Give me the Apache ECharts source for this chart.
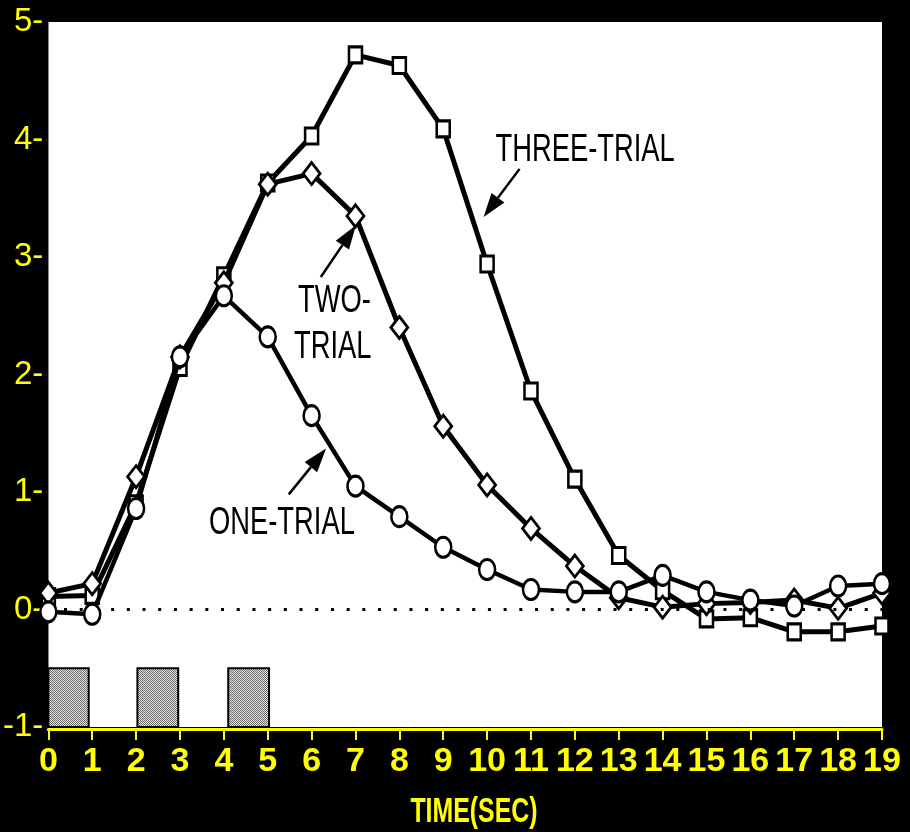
<!DOCTYPE html>
<html>
<head>
<meta charset="utf-8">
<script src="https://cdn.jsdelivr.net/npm/echarts@6/dist/echarts.min.js"></script>
<style>
html,body{margin:0;padding:0;background:#000;}
#chart{width:910px;height:832px;}
</style>
</head>
<body>
<div id="chart"></div>
<script>
// ---- data ----
var timeSec = [0,1,2,3,4,5,6,7,8,9,10,11,12,13,14,15,16,17,18,19];
var threeTrial = [0.11,0.12,0.90,2.06,2.84,3.63,4.03,4.72,4.63,4.09,2.94,1.86,1.11,0.46,0.16,-0.08,-0.07,-0.19,-0.19,-0.14];
var twoTrial   = [0.14,0.22,1.13,2.15,2.78,3.62,3.71,3.35,2.40,1.56,1.06,0.69,0.37,0.10,0.02,0.05,0.06,0.08,0.01,0.14];
var oneTrial   = [-0.02,-0.04,0.86,2.15,2.67,2.32,1.65,1.05,0.79,0.53,0.34,0.17,0.15,0.15,0.29,0.15,0.08,0.03,0.20,0.22];
// stimulus blocks: [start, end, bottom, top]
var stimBlocks = [[0,0.92,-1,-0.5],[2.03,2.96,-1,-0.5],[4.1,5.03,-1,-0.5]];
var xTicks = {min:0, max:19, interval:1};
var yTicks = {min:-1, max:5, interval:1};
var xAxisName = 'TIME(SEC)';
// annotations in data coordinates
var labels = [
  {text:'THREE-TRIAL', x:10.19, y:3.91},
  {text:'TWO-', x:5.69, y:2.62},
  {text:'TRIAL', x:5.60, y:2.23},
  {text:'ONE-TRIAL', x:3.66, y:0.73}
];
var arrows = [
  {from:[10.74,3.75], to:[9.92,3.34]},
  {from:[6.21,2.83], to:[7.01,3.27]},
  {from:[5.48,0.98], to:[6.33,1.37]}
];

// ---- dither pattern ----
var pc = document.createElement('canvas');
pc.width = 2; pc.height = 2;
var g = pc.getContext('2d');
g.fillStyle = '#e2e2e2'; g.fillRect(0,0,2,2);
g.fillStyle = '#6e6e6e'; g.fillRect(0,0,1,1); g.fillRect(1,1,1,1);

var chart = echarts.init(document.getElementById('chart'), null, {renderer:'canvas'});
var YEL = '#ffff00';
function pts(arr){ return arr.map(function(v,i){ return [timeSec[i], v]; }); }
var lineBase = {
  type:'line', showSymbol:true,
  lineStyle:{color:'#000', width:5},
  itemStyle:{color:'#fff', borderColor:'#000', borderWidth:2.8},
  emphasis:{disabled:true}, animation:false
};
var option = {
  backgroundColor:'#000',
  animation:false,
  grid:{left:47, right:28, top:22, bottom:105, show:true, backgroundColor:'#fff', borderWidth:0},
  xAxis:{
    type:'value', min:xTicks.min, max:xTicks.max, interval:xTicks.interval,
    offset:2,
    axisLine:{show:true, onZero:false, lineStyle:{color:YEL, width:3}},
    axisTick:{show:true, length:11, lineStyle:{color:YEL, width:2}},
    axisLabel:{color:YEL, fontSize:34, fontWeight:'bold', fontFamily:'Liberation Sans, Arial, sans-serif', margin:16},
    splitLine:{show:false}
  },
  yAxis:{
    type:'value', min:yTicks.min, max:yTicks.max, interval:yTicks.interval,
    axisLine:{show:true, onZero:false, lineStyle:{color:'#888', width:1}},
    axisTick:{show:false},
    axisLabel:{color:YEL, fontSize:33, fontFamily:'Liberation Sans, Arial, sans-serif', margin:5,
      formatter:function(v){ return v + '-'; }},
    splitLine:{show:false}
  },
  series:[
    {
      type:'custom', animation:false, silent:true,
      data:stimBlocks,
      renderItem:function(params, api){
        var p0 = api.coord([api.value(0), api.value(3)]);
        var p1 = api.coord([api.value(1), api.value(2)]);
        return {type:'rect', shape:{x:p0[0], y:p0[1], width:p1[0]-p0[0], height:p1[1]-p0[1]},
          style:{fill:{image:pc, repeat:'repeat'}, stroke:'#000', lineWidth:2}};
      },
      z:1
    },
    Object.assign({}, lineBase, {name:'THREE-TRIAL', data:pts(threeTrial), symbol:'rect', symbolSize:[13,16], z:3,
      markLine:{silent:true, symbol:'none', label:{show:false}, animation:false,
        lineStyle:{color:'#000', width:3, type:[3,12.7]}, data:[{yAxis:0}]}}),
    Object.assign({}, lineBase, {name:'TWO-TRIAL', data:pts(twoTrial), symbol:'diamond', symbolSize:[17,22], z:4}),
    Object.assign({}, lineBase, {name:'ONE-TRIAL', data:pts(oneTrial), symbol:'circle', symbolSize:[16,20], z:5, lineStyle:{color:'#000', width:4.5}})
  ]
};
chart.setOption(option);

function drawGraphics(){
  var els = [];
  labels.forEach(function(l){
    var p = chart.convertToPixel({gridIndex:0}, [l.x, l.y]);
    els.push({type:'text', x:p[0], y:p[1], scaleX:0.72, z:50,
      style:{text:l.text, fill:'#000', fontSize:38, fontFamily:'Liberation Sans, Arial, sans-serif',
        textAlign:'left', textVerticalAlign:'middle'}});
  });
  arrows.forEach(function(a){
    var f = chart.convertToPixel({gridIndex:0}, a.from);
    var t = chart.convertToPixel({gridIndex:0}, a.to);
    var dx = t[0]-f[0], dy = t[1]-f[1], L = Math.sqrt(dx*dx+dy*dy);
    var ux = dx/L, uy = dy/L, hl = 24, hw = 8;
    var bx = t[0]-ux*hl, by = t[1]-uy*hl;
    els.push({type:'line', z:50, shape:{x1:f[0], y1:f[1], x2:bx, y2:by}, style:{stroke:'#000', lineWidth:2.5}});
    els.push({type:'polygon', z:50, shape:{points:[[t[0],t[1]],[bx-uy*hw, by+ux*hw],[bx+uy*hw, by-ux*hw]]}, style:{fill:'#000'}});
  });
  var c0 = chart.convertToPixel({gridIndex:0}, [9.7, -1]);
  els.push({type:'text', x:c0[0], y:812, scaleX:0.71, z:50,
    style:{text:xAxisName, fill:YEL, fontSize:35, fontWeight:'bold', fontFamily:'Liberation Sans, Arial, sans-serif',
      textAlign:'center', textVerticalAlign:'middle'}});
  chart.setOption({graphic:{elements:els}});
}
drawGraphics();
</script>
</body>
</html>
